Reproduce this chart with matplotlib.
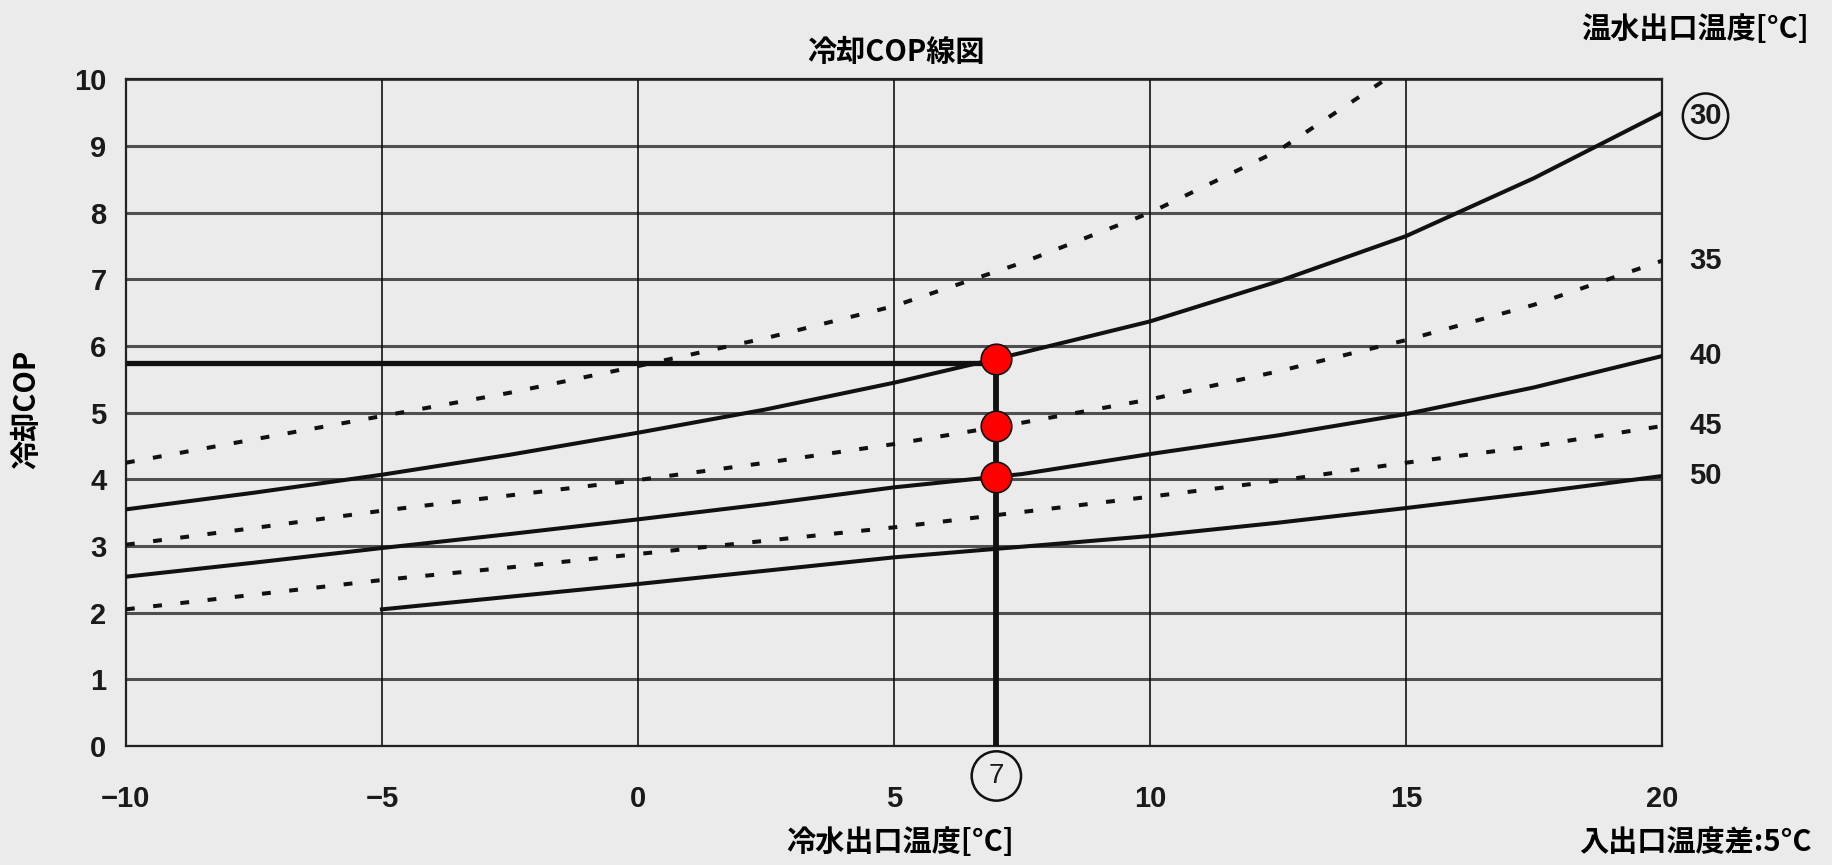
import matplotlib.pyplot as plt

# cooling COP chart (chilled water outlet temp vs COP, per hot water outlet temp)
x_25 = [-10, -7.5, -5, -2.5, 0, 2.5, 5, 7.5, 10, 12.5, 14.6]
cop_25 = [4.25, 4.6, 4.95, 5.3, 5.7, 6.12, 6.6, 7.25, 8.0, 8.93, 10.0]

x_full = [-10, -7.5, -5, -2.5, 0, 2.5, 5, 7.5, 10, 12.5, 15, 17.5, 20]
cop_30 = [3.55, 3.8, 4.07, 4.37, 4.7, 5.05, 5.45, 5.9, 6.37, 6.97, 7.65, 8.52, 9.5]
cop_35 = [3.02, 3.27, 3.53, 3.76, 3.99, 4.25, 4.53, 4.85, 5.2, 5.62, 6.09, 6.62, 7.28]
cop_40 = [2.54, 2.75, 2.97, 3.18, 3.4, 3.63, 3.88, 4.08, 4.38, 4.66, 4.98, 5.38, 5.85]
cop_45 = [2.05, 2.27, 2.49, 2.68, 2.88, 3.08, 3.28, 3.51, 3.74, 3.98, 4.25, 4.5, 4.8]

x_50 = [-5, -2.5, 0, 2.5, 5, 7.5, 10, 12.5, 15, 17.5, 20]
cop_50 = [2.05, 2.24, 2.43, 2.63, 2.83, 2.99, 3.15, 3.35, 3.57, 3.8, 4.05]

hot_labels = ['30', '35', '40', '45', '50']

# reading example: chilled water 7degC
read_x = 7
read_cop = 5.75
dot_cop = [5.8, 4.8, 4.03]

x_ticks = [-10, -5, 0, 5, 10, 15, 20]
y_ticks = list(range(0, 11))

jp = ['Noto Sans CJK JP', 'DejaVu Sans']
num = ['Liberation Sans', 'DejaVu Sans']
bg = '#ebebeb'

fig = plt.figure(figsize=(18.33, 8.65), dpi=100, facecolor=bg)
ax = fig.add_axes([0.0687, 0.1376, 0.838, 0.7705], facecolor=bg)
ax.set_xlim(-10, 20)
ax.set_ylim(0, 10)

for y in y_ticks:
    ax.axhline(y, color='#505050', linewidth=2.2, zorder=1)
for x in x_ticks:
    ax.axvline(x, color='#111111', linewidth=1.2, zorder=1)
for s in ax.spines.values():
    s.set_linewidth(1.6)
    s.set_color('#222222')

dash = (0, (2.2, 4.6))
lw = 2.9
ax.plot(x_25, cop_25, color='#111111', linewidth=lw, linestyle=dash, zorder=3)
ax.plot(x_full, cop_30, color='#111111', linewidth=lw, zorder=3)
ax.plot(x_full, cop_35, color='#111111', linewidth=lw, linestyle=dash, zorder=3)
ax.plot(x_full, cop_40, color='#111111', linewidth=lw, zorder=3)
ax.plot(x_full, cop_45, color='#111111', linewidth=lw, linestyle=dash, zorder=3)
ax.plot(x_50, cop_50, color='#111111', linewidth=lw, zorder=3)

# reading lines
ax.plot([-10, read_x], [read_cop, read_cop], color='#111111', linewidth=3.8, zorder=4,
        solid_capstyle='butt')
ax.plot([read_x, read_x], [0, dot_cop[0]], color='#111111', linewidth=4.2, zorder=4,
        solid_capstyle='butt')
ax.plot([read_x] * 3, dot_cop, linestyle='none', marker='o', markersize=22,
        markerfacecolor='#ff0000', markeredgecolor='#111111', markeredgewidth=1.2, zorder=5)

ax.set_xticks(x_ticks)
ax.set_yticks(y_ticks)
ax.tick_params(length=0, pad=14)
ax.tick_params(axis='x', pad=28)
for t in ax.get_xticklabels() + ax.get_yticklabels():
    t.set_fontfamily(num)
    t.set_fontsize(21)
    t.set_fontweight('bold')
    t.set_color('#1a1a1a')

# right-hand labels
ends = [9.45, cop_35[-1], cop_40[-1], cop_45[-1], cop_50[-1]]
for lab, y in zip(hot_labels, ends):
    kw = {}
    if lab == '30':
        kw['bbox'] = dict(boxstyle='circle,pad=0.22', facecolor='none', edgecolor='#111111', linewidth=1.8)
    ax.text(20.85, y, lab, fontsize=21, fontweight='bold', family=num, color='#1a1a1a',
            ha='center', va='center', **kw)

# circled 7 under the axis
ax.text(read_x, -0.45, '7', fontsize=20, family=num, color='#1a1a1a', ha='center', va='center',
        bbox=dict(boxstyle='circle,pad=0.42', facecolor=bg, edgecolor='#111111', linewidth=1.8))

fig.text(0.489, 0.940, '冷却COP線図', family=jp, fontsize=21, fontweight='bold', ha='center', va='center')
fig.text(0.925, 0.966, '温水出口温度[°C]', family=jp, fontsize=21, fontweight='bold', ha='center', va='center')
fig.text(0.491, 0.027, '冷水出口温度[°C]', family=jp, fontsize=21, fontweight='bold', ha='center', va='center')
fig.text(0.925, 0.027, '入出口温度差:5°C', family=jp, fontsize=21, fontweight='bold', ha='center', va='center')
fig.text(0.0142, 0.527, '冷却COP', family=jp, fontsize=21, fontweight='bold', ha='center', va='center',
         rotation=90)

fig.savefig('out.png', dpi=100, facecolor=bg)
